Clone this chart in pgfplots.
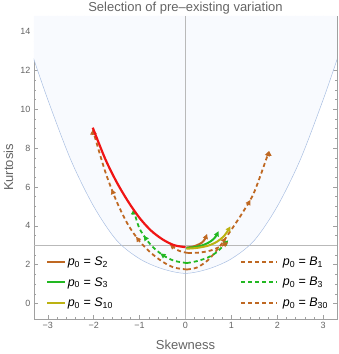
\documentclass[border=0pt]{standalone}
\usepackage{fontspec}
\setmainfont{Liberation Sans}
\usepackage{pgfplots}
\pgfplotsset{compat=1.18}
\usetikzlibrary{arrows.meta,decorations.markings}

\definecolor{cBrown}{RGB}{191,104,34}
\definecolor{cGreen}{RGB}{34,184,34}
\definecolor{cOlive}{RGB}{188,178,18}
\definecolor{cRed}{RGB}{240,20,20}
\definecolor{regionFill}{RGB}{248,250,254}
\definecolor{regionLine}{RGB}{168,190,226}
\definecolor{frameGray}{RGB}{160,160,160}
\definecolor{textGray}{RGB}{100,100,100}
\definecolor{refGray}{RGB}{185,185,185}

\pgfplotsset{
  traj/.style={line width=1.8pt, dash pattern=on 4pt off 3pt},
  solidtraj/.style={line width=2pt},
  tip/.style={-{Triangle[width=5pt,length=5pt]}},
  midarrows/.style={postaction={decorate}, decoration={markings,
      mark=at position 0.35 with {\arrow{Triangle[width=5pt,length=5pt]}},
      mark=at position 0.65 with {\arrow{Triangle[width=5pt,length=5pt]}}}},
}
\newcommand{\pe}[2]{\textit{p}\textsubscript{0} = \textit{#1}\textsubscript{#2}}

\begin{document}
\begin{tikzpicture}
\begin{axis}[
  scale only axis, width=303pt, height=303pt,
  xmin=-3.3, xmax=3.3, ymin=-0.8, ymax=14.8,
  axis line style={frameGray},
  xtick={-3,-2,-1,0,1,2,3}, xticklabels={−3,−2,−1,0,1,2,3},
  ytick={0,2,4,6,8,10,12,14},
  minor x tick num=4, minor y tick num=3,
  tick align=inside,
  major tick length=4pt, minor tick length=2.2pt,
  every tick/.style={frameGray, line width=0.5pt},
  tick label style={font=\fontsize{9}{10}\selectfont, text=textGray},
  /pgf/number format/assume math mode=true,
  title={Selection of pre–existing variation},
  every axis title/.style={font=\fontsize{13}{15}\selectfont, text=textGray,
    at={(axis description cs:0.5,1)}, anchor=base, yshift=4pt},
  xlabel={Skewness}, ylabel={Kurtosis},
  xlabel style={font=\fontsize{13}{15}\selectfont, text=textGray,
    at={(axis description cs:0.5,-0.102)}, anchor=base},
  ylabel style={font=\fontsize{13}{15}\selectfont, text=textGray,
    at={(axis description cs:-0.069,0.5)}, anchor=base},
  legend columns=2,
  legend cell align=left,
  legend style={at={(axis description cs:0.03,0.025)}, anchor=south west,
    draw=none, fill=none, font=\fontsize{12.5}{14}\selectfont,
    row sep=7pt, nodes={inner sep=1.5pt},
    /tikz/every even column/.append style={column sep=126pt}},
]
% legend entries, in the reference's two columns
\addlegendimage{legend image code/.code={\draw[cBrown, line width=2pt] (0pt,0pt) -- (18pt,0pt);}}
\addlegendentry{\pe{S}{2}}
\addlegendimage{legend image code/.code={\draw[cBrown, line width=1.8pt, dash pattern=on 4pt off 3pt] (0pt,0pt) -- (36pt,0pt); \path[draw=none] (40pt,0pt);}}
\addlegendentry{\pe{B}{1}}
\addlegendimage{legend image code/.code={\draw[cGreen, line width=2pt] (0pt,0pt) -- (18pt,0pt);}}
\addlegendentry{\pe{S}{3}}
\addlegendimage{legend image code/.code={\draw[cGreen, line width=1.8pt, dash pattern=on 4pt off 3pt] (0pt,0pt) -- (36pt,0pt); \path[draw=none] (40pt,0pt);}}
\addlegendentry{\pe{B}{3}}
\addlegendimage{legend image code/.code={\draw[cOlive, line width=2pt] (0pt,0pt) -- (18pt,0pt);}}
\addlegendentry{\pe{S}{10}}
\addlegendimage{legend image code/.code={\draw[cBrown, line width=1.8pt, dash pattern=on 4pt off 3pt] (0pt,0pt) -- (36pt,0pt); \path[draw=none] (40pt,0pt);}}
\addlegendentry{\pe{B}{30}}

% attainable region above the lower boundary
\addplot[fill=regionFill, draw=none, forget plot] coordinates {
  (-3.35,12.9) (-3.0,10.5) (-2.5,7.4) (-2.0,5.0) (-1.5,3.25) (-1.0,2.3)
  (-0.5,1.78) (0,1.55) (0.5,1.78) (1.0,2.3) (1.5,3.25) (2.0,5.0)
  (2.5,7.4) (3.0,10.5) (3.35,12.9) (3.35,14.8) (-3.35,14.8)
};
\draw[refGray, line width=0.6pt] (axis cs:0,-0.8) -- (axis cs:0,14.8);
\draw[refGray, line width=0.6pt] (axis cs:-3.3,3) -- (axis cs:3.3,3);
\addplot[regionLine, line width=0.5pt, smooth, forget plot] coordinates {
  (-3.35,12.9) (-3.0,10.5) (-2.5,7.4) (-2.0,5.0) (-1.5,3.25) (-1.0,2.3)
  (-0.5,1.78) (0,1.55) (0.5,1.78) (1.0,2.3) (1.5,3.25) (2.0,5.0)
  (2.5,7.4) (3.0,10.5) (3.35,12.9)
};

% B30: outer brown, both branches from the bottom
\addplot[cBrown, traj, smooth, forget plot, tip, midarrows] coordinates {
  (0.03,1.75) (-0.25,1.85) (-0.5,2.15) (-0.75,2.6) (-1.0,3.2) (-1.25,4.05)
  (-1.5,5.25) (-1.75,6.8) (-2.02,8.95)
};
\addplot[cBrown, traj, smooth, forget plot, tip, midarrows] coordinates {
  (0.03,1.75) (0.25,1.85) (0.5,2.25) (0.75,2.95) (1.0,3.8) (1.25,4.7)
  (1.5,5.75) (1.82,7.85)
};
% B3: green dashed
\addplot[cGreen, traj, smooth, forget plot, tip, midarrows] coordinates {
  (0.03,2.08) (-0.25,2.2) (-0.5,2.5) (-0.75,3.0) (-1.0,3.85) (-1.13,4.85)
};
\addplot[cGreen, traj, smooth, forget plot, tip] coordinates {
  (0.03,2.08) (0.25,2.18) (0.5,2.38) (0.7,2.68) (0.93,3.25)
};
% B1: inner brown dashed
\addplot[cBrown, traj, smooth, forget plot, tip] coordinates {
  (0.05,2.6) (-0.15,2.72) (-0.34,3.04)
};
\addplot[cBrown, traj, smooth, forget plot, tip] coordinates {
  (0.05,2.6) (0.3,2.62) (0.54,2.72) (0.75,2.92) (0.93,3.15)
};

% red solid trajectory
\addplot[cRed, line width=2.2pt, smooth, forget plot] coordinates {
  (-2.02,9.05) (-1.75,7.45) (-1.5,6.25) (-1.25,5.25) (-1.0,4.4)
  (-0.75,3.75) (-0.5,3.3) (-0.25,3.0) (0,2.9)
};

% S2, S3, S10: short solid trajectories
\addplot[cBrown, solidtraj, smooth, forget plot, tip] coordinates {
  (0.02,2.88) (0.15,2.92) (0.25,3.0) (0.35,3.12) (0.42,3.3) (0.47,3.58)
};
\addplot[cGreen, solidtraj, smooth, forget plot, tip] coordinates {
  (0.02,2.86) (0.2,2.9) (0.4,3.02) (0.55,3.2) (0.65,3.42) (0.72,3.72)
};
\addplot[cOlive, solidtraj, smooth, forget plot, tip] coordinates {
  (0.02,2.82) (0.25,2.86) (0.5,2.98) (0.7,3.2) (0.85,3.5) (0.98,3.97)
};
\end{axis}
\pgfresetboundingbox
\path (-34pt,-35pt) rectangle (304pt,319pt);
\end{tikzpicture}
\end{document}
